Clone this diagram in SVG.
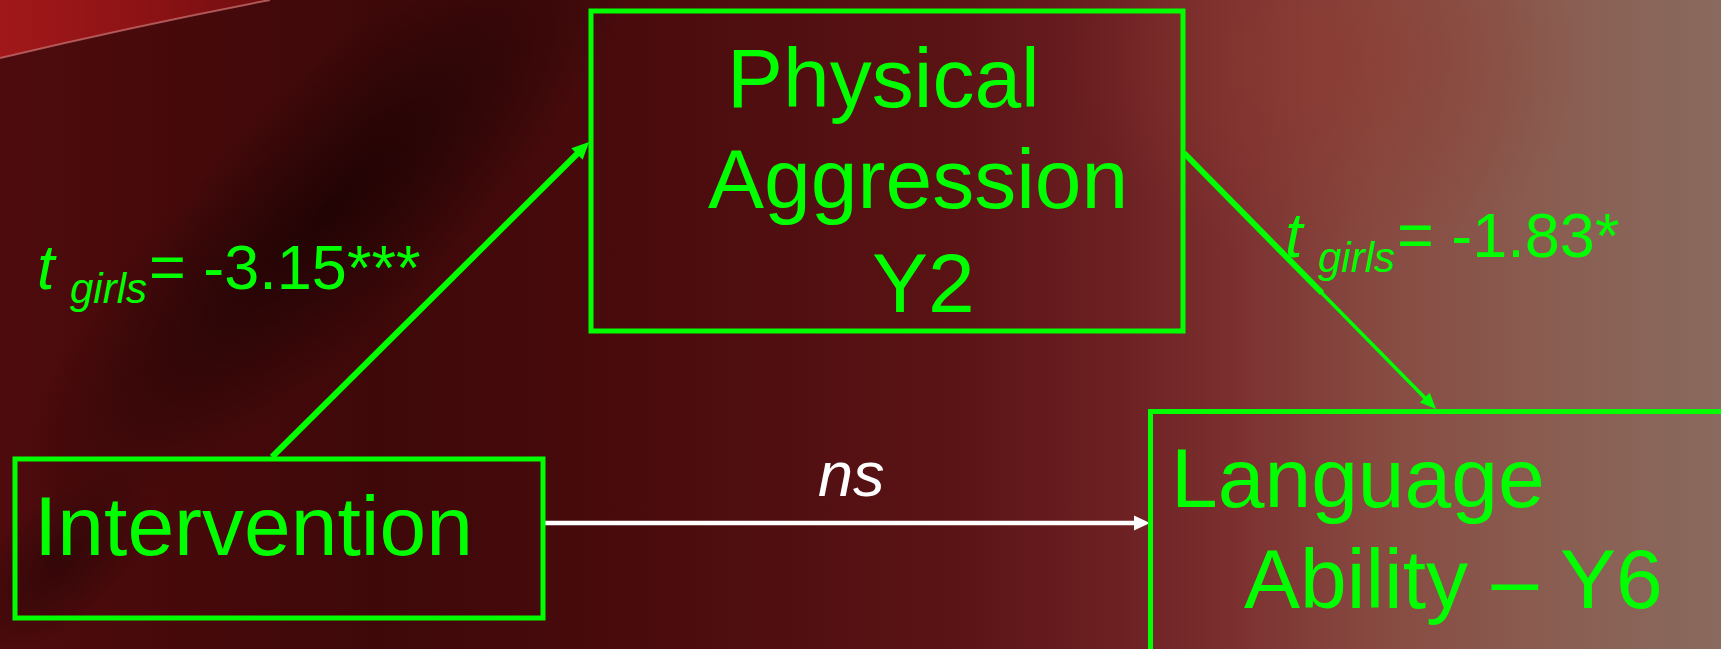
<svg xmlns="http://www.w3.org/2000/svg" width="1721" height="649" viewBox="0 0 1721 649">
  <defs>
    <linearGradient id="bgBase" x1="0" y1="0" x2="1721" y2="0" gradientUnits="userSpaceOnUse">
      <stop offset="0" stop-color="#4e0b0d"/>
      <stop offset="0.22" stop-color="#3e0809"/>
      <stop offset="0.4" stop-color="#4c0c0e"/>
      <stop offset="0.55" stop-color="#5a1315"/>
      <stop offset="0.65" stop-color="#6c2022"/>
      <stop offset="0.72" stop-color="#7c3130"/>
      <stop offset="0.8" stop-color="#874a41"/>
      <stop offset="0.9" stop-color="#8a5d51"/>
      <stop offset="1" stop-color="#8a6a5e"/>
    </linearGradient>
    <radialGradient id="darkBand" cx="0.5" cy="0.5" r="0.5">
      <stop offset="0" stop-color="#1c0303" stop-opacity="0.85"/>
      <stop offset="0.5" stop-color="#200404" stop-opacity="0.5"/>
      <stop offset="1" stop-color="#200404" stop-opacity="0"/>
    </radialGradient>
    <radialGradient id="warmGlow" cx="0.5" cy="0.5" r="0.5">
      <stop offset="0" stop-color="#8e3a30" stop-opacity="0.6"/>
      <stop offset="1" stop-color="#8e3a30" stop-opacity="0"/>
    </radialGradient>
    <linearGradient id="cornerRed" x1="0" y1="0" x2="268" y2="0" gradientUnits="userSpaceOnUse">
      <stop offset="0" stop-color="#a2181a"/>
      <stop offset="0.6" stop-color="#8a1214"/>
      <stop offset="1" stop-color="#700e10"/>
    </linearGradient>
    <style>
      .box { fill: none; stroke: #00ff00; stroke-width: 5; }
      .label { font-family: "Liberation Sans", Arial, sans-serif; fill: #00ff00; font-size: 84px; }
      .stat { font-family: "Liberation Sans", Arial, sans-serif; fill: #00ff00; font-size: 63px; }
      .it { font-style: italic; }
      .sub { font-style: italic; font-size: 42px; }
      .ns { font-family: "Liberation Sans", Arial, sans-serif; fill: #ffffff; font-size: 63px; font-style: italic; }
      .edge { stroke: #00ff00; fill: none; }
      .head { fill: #00ff00; }
    </style>
  </defs>

  <!-- backdrop -->
  <g id="background">
    <rect x="0" y="0" width="1721" height="649" fill="url(#bgBase)"/>
    <ellipse cx="330" cy="210" rx="420" ry="120" transform="rotate(-45 330 210)" fill="url(#darkBand)"/>
    <ellipse cx="60" cy="560" rx="120" ry="60" transform="rotate(-45 60 560)" fill="url(#darkBand)" opacity="0.6"/>
    <ellipse cx="1330" cy="60" rx="260" ry="200" fill="url(#warmGlow)"/>
    <path d="M0,0 L270,0 Q135,26 0,58 Z" fill="url(#cornerRed)"/>
    <path d="M0,58 Q135,26 270,0" fill="none" stroke="#c97070" stroke-width="2" opacity="0.75"/>
  </g>

  <!-- connectors -->
  <g id="connectors">
    <line class="edge" x1="272" y1="457" x2="580" y2="151" stroke-width="6"/>
    <polygon class="head" points="589,142 582.7,159.7 571.3,148.3"/>
    <line class="edge" x1="1184" y1="153" x2="1427" y2="400" stroke-width="3.5"/>
    <line class="edge" x1="1184" y1="153" x2="1322" y2="293" stroke-width="6"/>
    <polygon class="head" points="1436,409 1419.8,402.5 1429.8,392.7"/>
    <line x1="545" y1="523" x2="1137" y2="523" stroke="#ffffff" stroke-width="4.5"/>
    <polygon points="1134,515.5 1150,523 1134,530.5" fill="#ffffff"/>
  </g>

  <!-- edge labels -->
  <g id="edge-labels">
    <text class="stat"><tspan class="it" x="37" y="289">t</tspan><tspan class="sub" x="70" y="303">girls</tspan><tspan x="149" y="289">= -3.15***</tspan></text>
    <text class="stat"><tspan class="it" x="1285" y="257">t</tspan><tspan class="sub" x="1318" y="272">girls</tspan><tspan x="1397" y="257">= -1.83*</tspan></text>
    <text class="ns" x="818" y="496">ns</text>
  </g>

  <g id="node-aggression">
    <rect class="box" x="591" y="11" width="592" height="320"/>
    <text class="label" x="727" y="107">Physical</text>
    <text class="label" x="708" y="208">Aggression</text>
    <text class="label" x="872" y="312">Y2</text>
  </g>

  <g id="node-intervention">
    <rect class="box" x="15" y="459" width="528" height="159"/>
    <text class="label" x="34" y="555">Intervention</text>
  </g>

  <g id="node-language">
    <rect class="box" x="1150.5" y="411.5" width="600" height="260"/>
    <text class="label" x="1171" y="507">Language</text>
    <text class="label" x="1244" y="608">Ability – Y6</text>
  </g>
</svg>
